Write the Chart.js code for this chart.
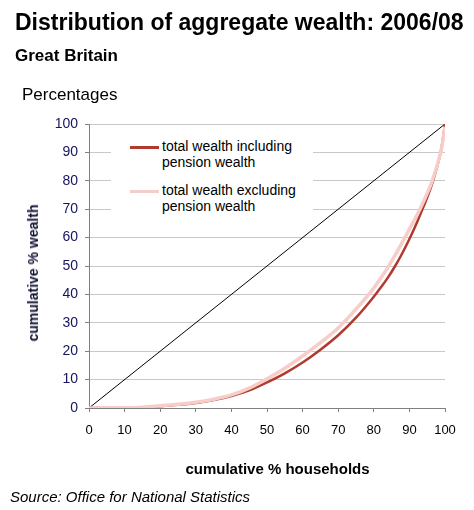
<!DOCTYPE html>
<html>
<head>
<meta charset="utf-8">
<script src="https://cdn.jsdelivr.net/npm/chart.js@4.4.1/dist/chart.umd.min.js"></script>
<style>
  body { margin: 0; background: #fff; font-family: "Liberation Sans", Arial, sans-serif; color: #000; }
  #wrap { position: relative; width: 474px; height: 510px; overflow: hidden; }
  #wrap canvas { position: absolute; left: 0; top: 0; }
  .txt { position: absolute; white-space: nowrap; }
  #title { left: 15px; top: 10.5px; font-size: 23px; line-height: 23px; font-weight: bold; }
  #subtitle { left: 15px; top: 47.3px; font-size: 17px; line-height: 17px; font-weight: bold; }
  #units { left: 22px; top: 86.3px; font-size: 17px; line-height: 17px; }
  #xtitle { left: 277.5px; top: 460.6px; font-size: 15px; line-height: 15px; font-weight: bold; transform: translateX(-50%); }
  #ytitle { left: 33px; top: 273px; font-size: 14px; line-height: 14px; font-weight: bold; color: #111133;
            transform: translate(-50%, -50%) rotate(-90deg); }
  #source { left: 10px; top: 489px; font-size: 15px; line-height: 15px; font-style: italic; }
  #legend { position: absolute; left: 111px; top: 126px; width: 202px; height: 98px; background: #fff; }
  .swatch { position: absolute; left: 130px; width: 29px; height: 3px; }
  .ltext { position: absolute; left: 162px; font-size: 14px; line-height: 16.5px; white-space: nowrap; }
</style>
</head>
<body>
<div id="wrap">
  <canvas id="lorenz" width="474" height="510"></canvas>
  <div class="txt" id="title">Distribution of aggregate wealth: 2006/08</div>
  <div class="txt" id="subtitle">Great Britain</div>
  <div class="txt" id="units">Percentages</div>
  <div class="txt" id="ytitle">cumulative % wealth</div>
  <div class="txt" id="xtitle">cumulative % households</div>
  <div class="txt" id="source">Source: Office for National Statistics</div>
  <div id="legend"></div>
  <div class="swatch" id="sw1" style="top:145.8px;"></div>
  <div class="ltext" style="top:137.6px;">total wealth including<br>pension wealth</div>
  <div class="swatch" id="sw2" style="top:190.2px;"></div>
  <div class="ltext" style="top:181.9px;">total wealth excluding<br>pension wealth</div>
</div>

<script>
// valori (percentuali cumulative)
const households  = [0, 5, 10, 15, 20, 25, 30, 35, 40, 45, 50, 55, 60, 65, 70, 75, 80, 82, 84, 86, 88, 90, 92, 94, 96, 97, 98, 99, 100];
const inclPension = [0, 0, 0, 0.2, 0.6, 1.1, 1.8, 2.8, 4.2, 6.2, 9.0, 12.2, 16.0, 20.5, 25.6, 31.8, 39.2, 42.5, 46, 50, 54.5, 59.5, 65, 71, 77.5, 81.5, 86, 91.5, 100];
const exclPension = [0, 0, 0.1, 0.3, 0.8, 1.3, 2.0, 3.1, 4.6, 7.0, 10.3, 14.0, 18.3, 23.0, 28.2, 34.8, 42.2, 45.8, 49.6, 53.8, 58.3, 63, 67.6, 72.8, 78.6, 82.2, 86.4, 91.2, 99];
const equalityX = [0, 100];
const equalityY = [0, 100];
const tickValues = [0, 10, 20, 30, 40, 50, 60, 70, 80, 90, 100];

const inclColor = '#b03a2e';
const exclColor = '#f7cdc9';

document.getElementById('sw1').style.background = inclColor;
document.getElementById('sw2').style.background = exclColor;

function toPoints(xs, ys) {
    return xs.map((x, i) => ({ x: x, y: ys[i] }));
}

new Chart(document.getElementById('lorenz').getContext('2d'), {
    type: 'line',
    data: {
        datasets: [
            {
                label: 'total wealth including pension wealth',
                data: toPoints(households, inclPension),
                borderColor: inclColor,
                borderWidth: 2.5,
                cubicInterpolationMode: 'monotone',
                pointRadius: 0,
                order: 1
            },
            {
                label: 'total wealth excluding pension wealth',
                data: toPoints(households, exclPension),
                borderColor: exclColor,
                borderWidth: 3.5,
                cubicInterpolationMode: 'monotone',
                pointRadius: 0,
                order: 0
            },
            {
                label: 'equality',
                data: toPoints(equalityX, equalityY),
                borderColor: '#000',
                borderWidth: 1,
                pointRadius: 0,
                order: 2
            }
        ]
    },
    options: {
        responsive: false,
        animation: false,
        layout: { padding: { left: 0, right: 29, top: 124, bottom: 30 } },
        plugins: { legend: { display: false }, tooltip: { enabled: false } },
        scales: {
            x: {
                type: 'linear',
                min: 0,
                max: 100,
                afterBuildTicks: (scale) => { scale.ticks = tickValues.map(v => ({ value: v })); },
                afterFit: (scale) => { scale.height = 72; },
                ticks: {
                    color: '#000',
                    font: { family: '"Liberation Sans", Arial, sans-serif', size: 13 },
                    padding: 11,
                    maxRotation: 0
                },
                grid: { drawOnChartArea: false, tickLength: 4, tickColor: '#808080' },
                border: { color: '#808080', width: 1 }
            },
            y: {
                min: 0,
                max: 100,
                afterBuildTicks: (scale) => { scale.ticks = tickValues.map(v => ({ value: v })); },
                afterFit: (scale) => { scale.width = 89; },
                ticks: {
                    color: '#15155e',
                    font: { family: '"Liberation Sans", Arial, sans-serif', size: 14 },
                    padding: 7
                },
                grid: { color: '#c8c8c8', tickLength: 4, tickColor: '#808080' },
                border: { color: '#808080', width: 1 }
            }
        }
    }
});
</script>
</body>
</html>
